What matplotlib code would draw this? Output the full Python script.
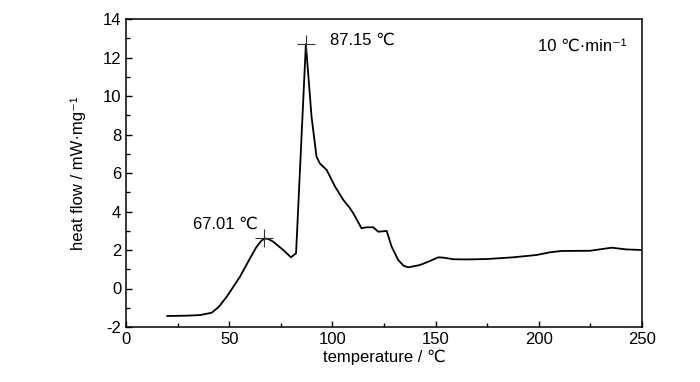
import matplotlib
matplotlib.use("Agg")
import matplotlib.pyplot as plt
from matplotlib.ticker import MultipleLocator

plt.rcParams['font.family'] = ['Liberation Sans', 'DejaVu Sans']
plt.rcParams['axes.unicode_minus'] = False

temperature = [20, 30, 35.9, 41.5, 45, 48.8, 55.2, 60.1, 63, 65.3, 67.01, 69, 71.3, 76.2, 79.9,
               82.4, 87.15, 89.9, 92.3, 93.9, 97.2, 101.3, 105.3, 108.5, 110.1, 114.1, 116.6,
               119.8, 122.2, 126.3, 128.7, 131.9, 134.5, 136.8, 142.4, 147.3, 151.3, 154, 158.6,
               165, 174.7, 187.6, 198.9, 205.4, 211, 224.8, 235.3, 242.5, 250]
heat_flow = [-1.43, -1.41, -1.38, -1.26, -0.95, -0.43, 0.61, 1.57, 2.12, 2.45, 2.60, 2.57,
             2.43, 2.00, 1.62, 1.83, 12.70, 8.92, 6.85, 6.50, 6.16, 5.29, 4.60, 4.17, 3.91,
             3.13, 3.18, 3.18, 2.95, 2.99, 2.17, 1.48, 1.18, 1.10, 1.22, 1.43, 1.62, 1.60,
             1.52, 1.51, 1.53, 1.62, 1.74, 1.88, 1.95, 1.96, 2.12, 2.03, 2.00]

peak_t = [67.01, 87.15]
peak_v = [2.60, 12.70]
peak_labels = ["67.01 ℃", "87.15 ℃"]

fig = plt.figure(figsize=(7.0, 3.82), dpi=100)
ax = fig.add_axes([126/700, 1-327/382, (642-126)/700, (327-19)/382])
ax.plot(temperature, heat_flow, color='black', lw=1.3)
ax.plot(peak_t, peak_v, linestyle='none', marker='+', markersize=13, mew=0.8, color='#333333')

ax.text(peak_t[0] - 3, peak_v[0] + 0.35, peak_labels[0], ha='right', va='bottom', fontsize=12)
ax.text(peak_t[1] + 11.5, peak_v[1] + 0.2, peak_labels[1], ha='left', va='center', fontsize=12)
ax.text(0.97, 0.91, "10 ℃·min⁻¹", transform=ax.transAxes, ha='right', va='center', fontsize=12)

ax.set_xlim(0, 250)
ax.set_ylim(-2, 14)
ax.xaxis.set_major_locator(MultipleLocator(50))
ax.xaxis.set_minor_locator(MultipleLocator(25))
ax.yaxis.set_major_locator(MultipleLocator(2))
ax.yaxis.set_minor_locator(MultipleLocator(1))
ax.tick_params(which='both', direction='in', top=False, right=False, labelsize=12)
ax.tick_params(which='major', length=4, width=1)
ax.tick_params(which='minor', length=3, width=1)
for s in ax.spines.values():
    s.set_linewidth(1.1)
ax.set_xlabel("temperature / ℃", fontsize=12, labelpad=2)
ax.set_ylabel("heat flow / mW·mg⁻¹", fontsize=12, labelpad=12)

fig.savefig("out.png", dpi=100)
